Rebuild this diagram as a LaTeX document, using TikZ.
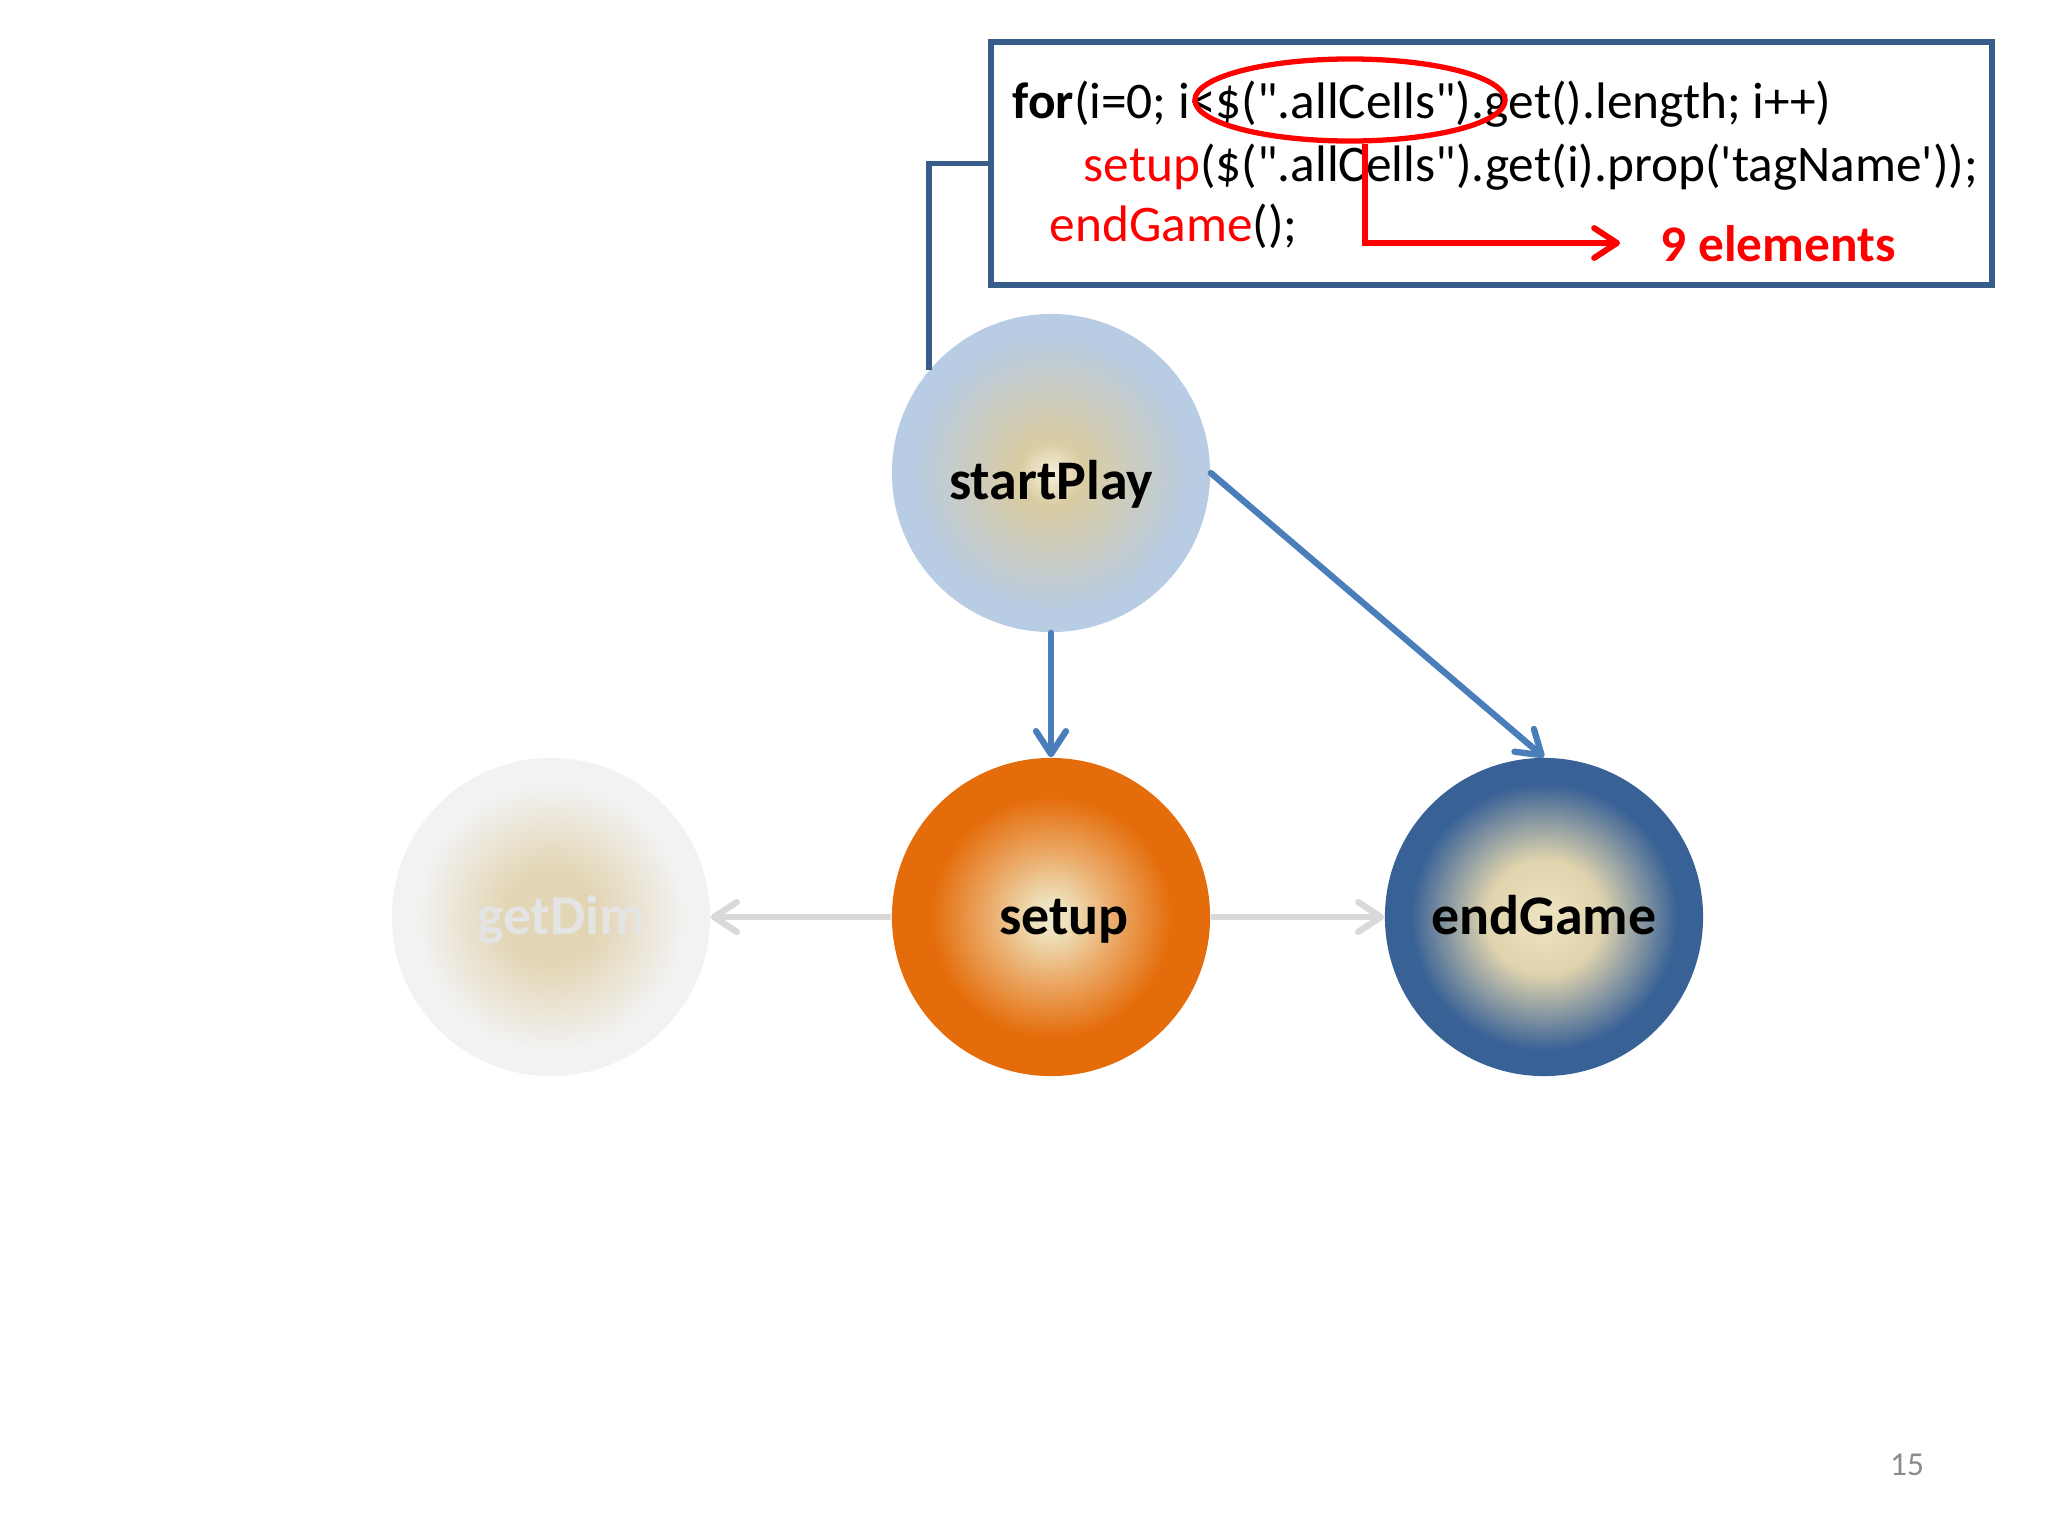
\documentclass[tikz,border=0pt]{standalone}
\usepackage{fontspec}
\setmainfont{Carlito}[Ligatures=TeXOff]
\usetikzlibrary{arrows.meta,shapes.geometric}
\definecolor{boxblue}{HTML}{385D8A}
\definecolor{arrblue}{HTML}{4A7EBB}
\definecolor{arrgrey}{HTML}{D9D9D9}
\definecolor{codered}{HTML}{FF0000}
\definecolor{pagegrey}{HTML}{8C8C8C}
\definecolor{greytext}{HTML}{E4E4E4}
% startPlay
\definecolor{spA}{HTML}{F7F1DC}
\definecolor{spB}{HTML}{DACCA2}
\definecolor{spC}{HTML}{B8CCE4}
% setup
\definecolor{suA}{HTML}{EFEBD3}
\definecolor{suB}{HTML}{EDDFB8}
\definecolor{suM}{HTML}{EBAA68}
\definecolor{suC}{HTML}{E46C0A}
% endGame
\definecolor{egA}{HTML}{EEE4C0}
\definecolor{egB}{HTML}{E0D4AE}
\definecolor{egC}{HTML}{386196}
% getDim
\definecolor{gdA}{HTML}{E3D7B8}
\definecolor{gdB}{HTML}{E2D5B3}
\definecolor{gdC}{HTML}{F2F2F2}
\pgfdeclareradialshading{startshade}{\pgfpoint{0bp}{0bp}}{color(0bp)=(spA); color(5bp)=(spB); color(22bp)=(spC); color(25bp)=(spC); color(50bp)=(spC)}
\pgfdeclareradialshading{setupshade}{\pgfpoint{0bp}{0bp}}{color(0bp)=(suA); color(3bp)=(suB); color(10bp)=(suM); color(19bp)=(suC); color(25bp)=(suC); color(50bp)=(suC)}
\pgfdeclareradialshading{endshade}{\pgfpoint{0bp}{0bp}}{color(0bp)=(egA); color(9bp)=(egB); color(21bp)=(egC); color(25bp)=(egC); color(50bp)=(egC)}
\pgfdeclareradialshading{dimshade}{\pgfpoint{0bp}{0bp}}{color(0bp)=(gdA); color(7bp)=(gdB); color(21bp)=(gdC); color(25bp)=(gdC); color(50bp)=(gdC)}
\begin{document}
\begin{tikzpicture}[x=0.01cm,y=-0.01cm,
  ball/.style={circle, minimum size=3.18cm, inner sep=0pt, text depth=0pt, text height=10.2pt, font=\fontsize{15.9}{18}\selectfont\bfseries},
  code/.style={anchor=base west, inner sep=0pt, font=\fontsize{14.6}{17}\selectfont},
  tipstyle/.style={-{Straight Barb[length=6.5pt,width=8.5pt,round]}},
  conn/.style={arrblue, line width=1.8pt, line cap=round, tipstyle},
  greyarr/.style={arrgrey, line width=1.8pt, tipstyle},
  redarr/.style={codered, line width=1.7pt, tipstyle}
]
\useasboundingbox (0,0) rectangle (2048,1536);
\fill[white] (0,0) rectangle (2048,1536);

% code box
\node[draw=boxblue, line width=1.7pt, minimum width=10.01cm, minimum height=2.43cm, inner sep=0pt] (box) at (1491.5,163.5) {};
\node[code] (l1) at (1012,118) {\textbf{for}(i=0; i<\$(".allCells").get().length; i++)};
\node[code] (l2) at (1083,181) {\textcolor{codered}{setup}(\$(".allCells").get(i).prop('tagName'));};
\node[code] (l3) at (1049,241) {\textcolor{codered}{endGame}();};
\node[code, text=codered, font=\fontsize{14.6}{17}\selectfont\bfseries] (nine) at (1660,261) {9 elements};
\node[ellipse, draw=codered, line width=1.5pt, minimum width=3.1cm, minimum height=0.82cm, inner sep=0pt] (ell) at (1350,100) {};
\coordinate (tip) at (1620,243);
\draw[redarr] ([xshift=0.15cm]ell.south) |- (tip);

% balls
\node[ball, shading=startshade, text height=14.8pt] (sp) at (1051,473) {startPlay};
\node[ball, shading=setupshade] (su) at (1051,917) {\hspace*{7.4pt}setup};
\node[ball, shading=endshade] (eg) at (1544,917) {endGame};
\node[ball, shading=dimshade, text=greytext] (gd) at (551,917) {\hspace*{5.7pt}getDim};

% connectors
\draw[boxblue, line width=1.7pt] (box.west) -| (sp.140);
\draw[conn] (sp.south) -- (su.north);
\draw[conn] (sp.east) -- (eg.north);
\draw[greyarr] (su.west) -- (gd.east);
\draw[greyarr] (su.east) -- (eg.west);

\node[font=\fontsize{9.5}{11}\selectfont, text=pagegrey] (pg) at (1907,1465) {15};
\end{tikzpicture}
\end{document}
